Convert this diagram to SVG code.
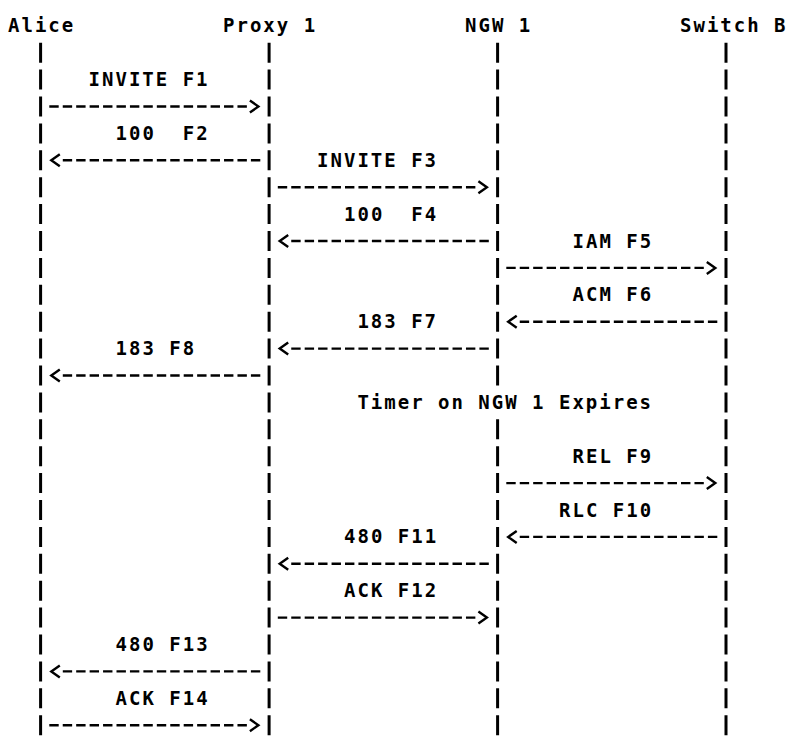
<svg xmlns="http://www.w3.org/2000/svg" width="790" height="736" viewBox="0 0 790 736">
<style>
  text { font-family: "DejaVu Sans Mono", "Liberation Mono", monospace; font-weight: bold; font-size: 19px; letter-spacing: 2px; fill: #000; }
  .life { stroke: #000; stroke-width: 3; stroke-dasharray: 20 6.9; fill: none; }
  .msg { stroke: #000; stroke-width: 2.4; stroke-dasharray: 9.4 4.04; fill: none; marker-end: url(#head); }
</style>
<defs>
  <marker id="head" markerUnits="userSpaceOnUse" markerWidth="20" markerHeight="20" viewBox="-5 -10 20 20" refX="-3" refY="0" orient="auto" overflow="visible">
    <path d="M0,-6 L8.5,0 L0,6" fill="none" stroke="#000" stroke-width="2.4"/>
  </marker>
</defs>
<rect width="790" height="736" fill="#fff"/>

<g id="alice">
  <text x="8" y="32.3">Alice</text>
  <line class="life" x1="40.6" y1="42.7" x2="40.6" y2="736"/>
</g>
<g id="proxy1">
  <text x="223" y="32.3">Proxy 1</text>
  <line class="life" x1="269.1" y1="42.7" x2="269.1" y2="736"/>
</g>
<g id="ngw1">
  <text x="465" y="32.3">NGW 1</text>
  <line class="life" x1="497.6" y1="42.7" x2="497.6" y2="385.5"/>
  <line class="life" x1="497.6" y1="419.3" x2="497.6" y2="736"/>
</g>
<g id="switchB">
  <text x="680" y="32.3">Switch B</text>
  <line class="life" x1="726" y1="42.7" x2="726" y2="736"/>
</g>

<g id="connectors">
  <line class="msg" x1="49.3" y1="106.5" x2="246.9" y2="106.5"/>
  <line class="msg" x1="260.3" y1="160.3" x2="62.8" y2="160.3"/>
  <line class="msg" x1="277.8" y1="187.2" x2="475.4" y2="187.2"/>
  <line class="msg" x1="488.8" y1="241" x2="291.2" y2="241"/>
  <line class="msg" x1="506.3" y1="267.9" x2="703.8" y2="267.9"/>
  <line class="msg" x1="717.3" y1="321.7" x2="519.7" y2="321.7"/>
  <line class="msg" x1="488.8" y1="348.6" x2="291.2" y2="348.6"/>
  <line class="msg" x1="260.3" y1="375.5" x2="62.8" y2="375.5"/>
  <line class="msg" x1="506.3" y1="483.1" x2="703.8" y2="483.1"/>
  <line class="msg" x1="717.3" y1="536.9" x2="519.7" y2="536.9"/>
  <line class="msg" x1="488.8" y1="563.8" x2="291.2" y2="563.8"/>
  <line class="msg" x1="277.8" y1="617.6" x2="475.4" y2="617.6"/>
  <line class="msg" x1="260.3" y1="671.4" x2="62.8" y2="671.4"/>
  <line class="msg" x1="49.3" y1="725.2" x2="246.9" y2="725.2"/>
</g>

<g id="labels">
  <text x="88.6" y="86.1">INVITE F1</text>
  <text x="115.5" y="139.9" xml:space="preserve">100  F2</text>
  <text x="317.1" y="166.8">INVITE F3</text>
  <text x="344" y="220.6" xml:space="preserve">100  F4</text>
  <text x="572.5" y="247.5">IAM F5</text>
  <text x="572.5" y="301.3">ACM F6</text>
  <text x="357.4" y="328.2">183 F7</text>
  <text x="115.5" y="355.1">183 F8</text>
  <text x="357.4" y="408.9">Timer on NGW 1 Expires</text>
  <text x="572.5" y="462.7">REL F9</text>
  <text x="559" y="516.5">RLC F10</text>
  <text x="344" y="543.4">480 F11</text>
  <text x="344" y="597.2">ACK F12</text>
  <text x="115.5" y="651">480 F13</text>
  <text x="115.5" y="704.8">ACK F14</text>
</g>
</svg>
